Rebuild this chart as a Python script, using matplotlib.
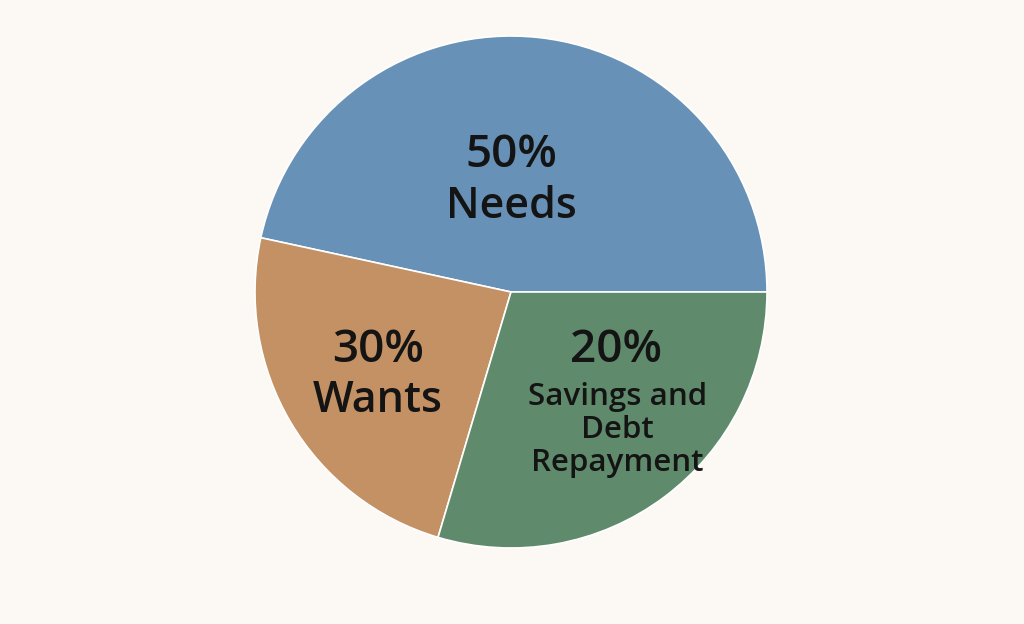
import matplotlib
matplotlib.use("Agg")
import matplotlib.pyplot as plt

categories = ["Needs", "Wants", "Savings and\nDebt\nRepayment"]
percent_labels = ["50%", "30%", "20%"]
slice_shares = [46.6, 23.8, 29.6]
colors = ["#6791b6", "#c39164", "#5f8a6c"]

bg = "#fcf9f4"
plt.rcParams["font.family"] = ["Open Sans", "DejaVu Sans"]

fig = plt.figure(figsize=(10.24, 6.24), dpi=100, facecolor=bg)
ax = fig.add_axes([255 / 1024, 76 / 624, 512 / 1024, 512 / 624])
ax.set_facecolor(bg)

ax.pie(slice_shares, colors=colors, startangle=0, counterclock=True,
       radius=1, wedgeprops=dict(edgecolor="white", linewidth=1.2))
ax.set_xlim(-1, 1)
ax.set_ylim(-1, 1)
ax.set_aspect("equal")
ax.axis("off")

txt = "#141414"
big = 31
pct = 33
w = "semibold"
# Needs
ax.text(0, 0.535, percent_labels[0], ha="center", va="center", fontsize=pct, weight=w, color=txt)
ax.text(0, 0.335, categories[0], ha="center", va="center", fontsize=big, weight=w, color=txt)
# Wants
ax.text(-0.52, -0.23, percent_labels[1], ha="center", va="center", fontsize=pct, weight=w, color=txt)
ax.text(-0.52, -0.425, categories[1], ha="center", va="center", fontsize=big, weight=w, color=txt)
# Savings
ax.text(0.41, -0.23, percent_labels[2], ha="center", va="center", fontsize=pct, weight=w, color=txt)
ax.text(0.415, -0.54, categories[2], ha="center", va="center", fontsize=22.5, weight=w,
        color=txt, linespacing=1.12)

fig.savefig("out.png", dpi=100, facecolor=bg)
